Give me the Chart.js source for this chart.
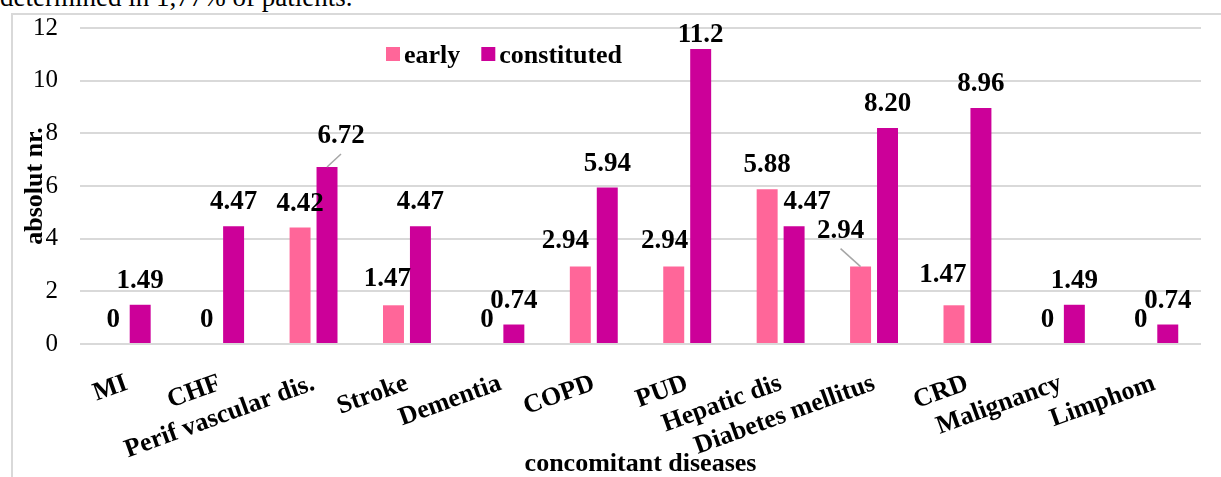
<!DOCTYPE html>
<html>
<head>
<meta charset="utf-8">
<script src="https://cdn.jsdelivr.net/npm/chart.js@4.4.0/dist/chart.umd.min.js"></script>
<style>
    html, body { margin: 0; padding: 0; background: #fff; overflow: hidden; }
    body { width: 1221px; height: 477px; position: relative; }
    #caption {
        position: absolute; left: 0; top: -16px;
        font: 27px Liberation Serif, Times New Roman, serif;
        line-height: 27px; white-space: nowrap; color: #000;
    }
    #frame {
        position: absolute; left: 11px; top: 13px; width: 1300px; height: 600px;
        border-left: 2px solid #d9d9d9; border-top: 2px solid #d9d9d9;
    }
    #wrap { position: absolute; left: 0; top: 0; width: 1221px; height: 477px; }
    canvas { display: block; }
</style>
</head>
<body>
<div id="caption">determined in 1,77% of patients.</div>
<div id="frame"></div>
<div id="wrap"><canvas id="barChart" width="1221" height="477"></canvas></div>
<script>
// Dados do gráfico
const categories = ['MI', 'CHF', 'Perif vascular dis.', 'Stroke', 'Dementia', 'COPD', 'PUD',
    'Hepatic dis', 'Diabetes mellitus', 'CRD', 'Malignancy', 'Limphom'];
const seriesNames = ['early', 'constituted'];
const earlyValues = [0, 0, 4.42, 1.47, 0, 2.94, 2.94, 5.88, 2.94, 1.47, 0, 0];
const constitutedValues = [1.49, 4.47, 6.72, 4.47, 0.74, 5.94, 11.2, 4.47, 8.20, 8.96, 1.49, 0.74];
const yTicks = [0, 2, 4, 6, 8, 10, 12];

const serif = 'Liberation Serif, Times New Roman, serif';

// ajustes de posição de alguns rótulos (dx, dy, linha guia)
const labelNudge = {
    '0-3': [-6, -2], '0-5': [-15, -2], '0-6': [-9, -2], '0-8': [-20, -12, true], '0-9': [-11, -6],
    '1-2': [14, -7, true], '1-6': [0, 10], '1-7': [13, 0]
};

function formatValue(v) {
    if (v === 0) return '0';
    return v >= 10 ? v.toFixed(1) : v.toFixed(2);
}

// rótulos de valores sobre as barras
const valueLabels = {
    id: 'valueLabels',
    afterDatasetsDraw(chart) {
        const ctx = chart.ctx;
        ctx.save();
        ctx.font = 'bold 27px ' + serif;
        ctx.textAlign = 'center';
        ctx.textBaseline = 'alphabetic';
        chart.data.datasets.forEach((ds, di) => {
            chart.getDatasetMeta(di).data.forEach((bar, i) => {
                const n = labelNudge[di + '-' + i] || [0, 0, false];
                const x = bar.x + n[0];
                const y = bar.y - 17 + n[1];
                if (n[2]) {
                    ctx.strokeStyle = '#a6a6a6';
                    ctx.lineWidth = 1.5;
                    ctx.beginPath();
                    ctx.moveTo(x, y + 11);
                    ctx.lineTo(bar.x, bar.y);
                    ctx.stroke();
                }
                ctx.fillStyle = '#000';
                ctx.fillText(formatValue(ds.data[i]), x, y);
            });
        });
        ctx.restore();
    }
};

// legenda dentro da área do gráfico
const insideLegend = {
    id: 'insideLegend',
    afterDraw(chart) {
        const ctx = chart.ctx;
        ctx.save();
        ctx.font = 'bold 26px ' + serif;
        ctx.textBaseline = 'alphabetic';
        let x = 386;
        chart.data.datasets.forEach(ds => {
            ctx.fillStyle = ds.backgroundColor;
            ctx.fillRect(x, 47, 14, 14);
            ctx.fillStyle = '#000';
            ctx.fillText(ds.label, x + 18, 63);
            x += 18 + ctx.measureText(ds.label).width + 21;
        });
        ctx.restore();
    }
};

const barData = {
    labels: categories,
    datasets: [
        {
            label: seriesNames[0],
            data: earlyValues,
            backgroundColor: '#FF6699',
            categoryPercentage: 0.577,
            barPercentage: 0.778
        },
        {
            label: seriesNames[1],
            data: constitutedValues,
            backgroundColor: '#CC0099',
            categoryPercentage: 0.577,
            barPercentage: 0.778
        }
    ]
};

const barConfig = {
    type: 'bar',
    data: barData,
    plugins: [valueLabels, insideLegend],
    options: {
        responsive: false,
        animation: false,
        layout: { padding: { left: 0, top: 28, right: 20, bottom: 0 } },
        plugins: {
            legend: { display: false },
            title: { display: false },
            tooltip: { enabled: false }
        },
        scales: {
            x: {
                grid: { display: false, drawTicks: false },
                border: { display: false },
                ticks: {
                    color: '#000',
                    font: { family: serif, weight: 'bold', size: 26 },
                    minRotation: 20,
                    maxRotation: 20,
                    autoSkip: false,
                    padding: 24
                },
                title: {
                    display: true,
                    text: 'concomitant diseases',
                    color: '#000',
                    font: { family: serif, weight: 'bold', size: 26, lineHeight: 1 },
                    padding: { top: 0, bottom: 0 }
                },
                afterFit(scale) {
                    scale.height = 133;
                    scale.paddingLeft = 0;
                    scale.paddingRight = 0;
                }
            },
            y: {
                min: yTicks[0],
                max: yTicks[yTicks.length - 1],
                ticks: {
                    stepSize: yTicks[1] - yTicks[0],
                    padding: 22,
                    color: '#000',
                    font: { family: serif, size: 25 }
                },
                grid: { color: '#d9d9d9', lineWidth: 2, drawTicks: false },
                border: { display: false },
                title: {
                    display: true,
                    text: 'absolut nr.',
                    color: '#000',
                    font: { family: serif, weight: 'bold', size: 26 },
                    padding: { top: 20, bottom: 4 }
                },
                afterFit(scale) {
                    scale.width = 80;
                    scale.paddingTop = 0;
                    scale.paddingBottom = 0;
                }
            }
        }
    }
};

const barChart = new Chart(document.getElementById('barChart'), barConfig);
</script>
</body>
</html>
